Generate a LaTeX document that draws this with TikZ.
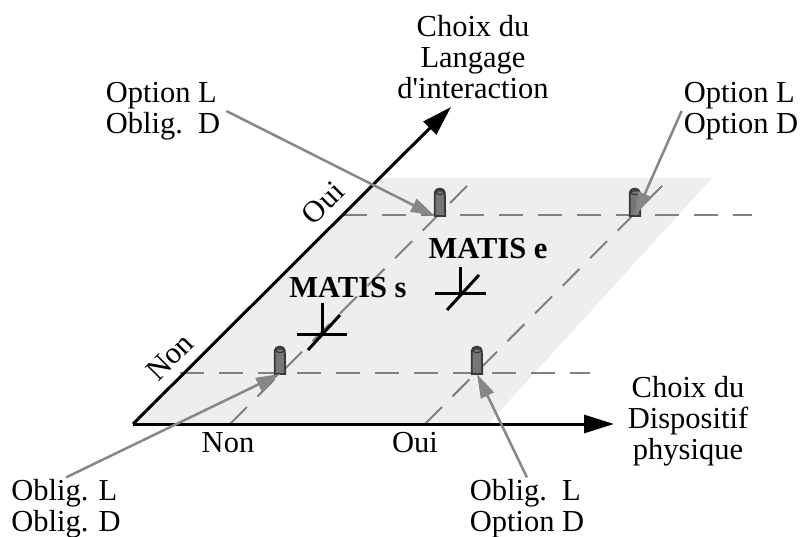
\documentclass[tikz,border=0pt]{standalone}
\usepackage{fontspec}
\setmainfont{Liberation Serif}
\usetikzlibrary{arrows.meta}
\definecolor{planegray}{RGB}{238,238,238}
\definecolor{dashgray}{RGB}{128,128,128}
\definecolor{callgray}{RGB}{135,135,135}
\definecolor{postfill}{RGB}{118,118,118}
\definecolor{postedge}{RGB}{55,55,55}
\newcommand{\figfont}{\fontsize{30.5}{31}\selectfont}

\begin{document}
\begin{tikzpicture}[
    x=1pt, y=-1pt,
    axis/.style={line width=3pt, draw=black, -{Triangle[length=30pt, width=18pt]}},
    grid/.style={line width=2pt, draw=dashgray, dash pattern=on 24pt off 15pt},
    callout/.style={line width=2.5pt, draw=callgray, -{Triangle[length=24pt, width=14pt]}},
    txt/.style={font=\figfont, align=#1, inner sep=2pt},
    txt/.default=left,
    title/.style={font=\figfont\bfseries, inner sep=1pt},
    post/.style={rectangle, inner sep=0pt, minimum width=10pt, minimum height=27pt, anchor=south},
    postbody/.style={draw=postedge, fill=postfill, line width=1.8pt},
    tick/.style={line width=3pt}
]
\useasboundingbox (0,0) rectangle (803,537);

% ==============================================================================
% PLANE AND GRID
% ==============================================================================
\fill[planegray] (133,424) -- (488,424) -- (712,178) -- (379,178) -- cycle;

\draw[grid] (180,373) -- (590,373);
\draw[grid] (343,215) -- (752,215);
\draw[grid] (230,424) -- (475,178);
\draw[grid] (425,424) -- (670,178);

% ==============================================================================
% AXES
% ==============================================================================
\coordinate (origin) at (133,424);
\coordinate (xend) at (614,424);
\coordinate (yend) at (451,107);
\draw[axis] (origin) -- (xend);
\draw[axis] (origin) -- (yend);

\node[txt=center] (xtitle) at (688,421) {Choix du\\Dispositif\\physique};
\node[txt=center] (ytitle) at (473,57) {Choix du\\Langage\\d\textquotesingle interaction};

\node[txt] (xnon) at (228,443) {Non};
\node[txt] (xoui) at (415,443) {Oui};
\node[txt, rotate=45, inner sep=0pt] (ynon) at (170,357) {Non};
\node[txt, rotate=45, inner sep=0pt] (youi) at (323,203) {Oui};

% ==============================================================================
% POSTS
% ==============================================================================
\node[post] (postNN) at (280,374) {};
\node[post] (postON) at (477,374) {};
\node[post] (postNO) at (440,216) {};
\node[post] (postOO) at (635,216) {};

\foreach \p in {postNN, postON, postNO, postOO} {
    \draw[postbody] (\p.south west) -- ([yshift=-4pt]\p.north west)
        arc[start angle=180, end angle=0, x radius=5pt, y radius=4pt]
        -- (\p.south east) -- cycle;
    \draw[postbody, line width=1.2pt] ([yshift=-4pt]\p.north) ellipse[x radius=4pt, y radius=2pt];
}

% ==============================================================================
% MATIS MARKS
% ==============================================================================
\node[title] (matisS) at (348,288) {MATIS s};
\coordinate (markS) at (322,334);
\draw[tick] ([xshift=-25pt]markS) -- ([xshift=25pt]markS);
\draw[tick] (markS) -- ++(0,-31);
\draw[tick] ([shift={(-14,16)}]markS) -- ([shift={(18,-19)}]markS);

\node[title] (matisE) at (488,249) {MATIS e};
\coordinate (markE) at (460,294);
\draw[tick] ([xshift=-25pt]markE) -- ([xshift=26pt]markE);
\draw[tick] (markE) -- ++(0,-27);
\draw[tick] ([shift={(-13,16)}]markE) -- ([shift={(19,-19)}]markE);

% ==============================================================================
% CALLOUTS
% ==============================================================================
\node[txt] (calNO) at (163,111) {Option L\\Oblig.~~D};
\node[txt] (calOO) at (741,111) {Option L\\Option D};
\node[txt] (calNN) at (66,509) {Oblig. L\\Oblig. D};
\node[txt] (calON) at (527,509) {Oblig.~~L\\Option D};

\draw[callout] ([xshift=4pt]calNO.east) -- (postNO.south west);
\draw[callout] (calOO.west) -- (postOO.south);
\draw[callout] (calNN.north) -- (postNN.south);
\draw[callout] (calON.north) -- (postON.south);

\end{tikzpicture}
\end{document}
